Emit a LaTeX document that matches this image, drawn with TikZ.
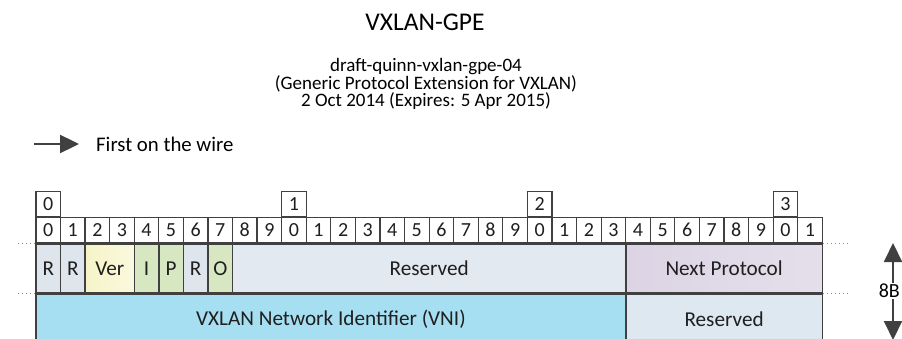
\documentclass[tikz,border=0pt]{standalone}
\usepackage{fontspec}
\setmainfont{Carlito}
\usetikzlibrary{arrows.meta,positioning}
\definecolor{linegray}{HTML}{404040}
\definecolor{dotgray}{HTML}{8C8C8C}
\definecolor{textdark}{HTML}{1F1F1F}
\definecolor{flagfill}{HTML}{DFE5ED}
\definecolor{verfill}{HTML}{F6F4C6}
\definecolor{bitfill}{HTML}{D6E7C2}
\definecolor{resfill}{HTML}{E3E9F0}
\definecolor{resmid}{HTML}{DCDDDF}
\definecolor{nextfill}{HTML}{DCD4E4}
\definecolor{vnifill}{HTML}{A6DEF2}
\definecolor{vnimid}{HTML}{D2E9F2}
\definecolor{resbfill}{HTML}{DEE8F1}
\newcommand{\bitw}{24.575}
\tikzset{
  >={Triangle[length=19pt,width=18pt]},
  bitcell/.style={draw=linegray,line width=1.2pt,fill=white,minimum width=\bitw pt,minimum height=25pt,inner sep=0pt,font=\fontsize{20}{21}\selectfont,text=textdark},
  field/.style={draw=linegray,line width=1.4pt,minimum height=49pt,inner sep=0pt,anchor=north west,font=\fontsize{21.2}{23}\selectfont,text=textdark},
  guide/.style={draw=dotgray,line width=1pt,dash pattern=on 1pt off 3pt},
  sizearrow/.style={->,draw=linegray,line width=2pt},
  wirearrow/.style={->,draw=linegray,line width=2.4pt}
}

\begin{document}
\begin{tikzpicture}[x=1pt,y=-1pt]
  \useasboundingbox (0,0) rectangle (902,339);

  % Title and draft reference.
  \node[font=\fontsize{25.5}{28}\selectfont,text=black] (title) at (425,22) {VXLAN-GPE};
  \node[font=\fontsize{19}{17.6}\selectfont,text=black,align=center] (draft) at (426,84) {draft-quinn-vxlan-gpe-04\\(Generic Protocol Extension for VXLAN)\\2 Oct 2014 (Expires: 5 Apr 2015)};

  % Bit order legend.
  \node[font=\fontsize{20.8}{23}\selectfont,text=black,anchor=west,inner sep=0pt] (wire) at (96,144) {First on the wire};
  \coordinate (wirestart) at (34,144);
  \draw[wirearrow] (wirestart) -- ([xshift=-17pt]wire.west);

  % Bit ruler.
  \foreach \b in {0,...,31} {
    \pgfmathtruncatemacro\d{mod(\b,10)}
    \node[bitcell,anchor=north west] (bit\b) at ({35.3+\b*\bitw},217) {\d};
  }
  \foreach \t in {0,1,2,3}
    \node[bitcell,anchor=south west] (dec\t) at ({35.3+\t*10*\bitw},217) {\t};

  % First word.
  \node[field,fill=flagfill,minimum width=\bitw pt] (fR0) at (bit0.south west) {R};
  \node[field,fill=flagfill,minimum width=\bitw pt] (fR1) at (bit1.south west) {R};
  \node[field,left color=verfill,right color=verfill!55,minimum width=2*\bitw pt] (fVer) at (bit2.south west) {Ver};
  \node[field,fill=bitfill,minimum width=\bitw pt] (fI) at (bit4.south west) {I};
  \node[field,fill=bitfill,minimum width=\bitw pt] (fP) at (bit5.south west) {P};
  \node[field,fill=flagfill,minimum width=\bitw pt] (fR6) at (bit6.south west) {R};
  \node[field,fill=bitfill,minimum width=\bitw pt] (fO) at (bit7.south west) {O};
  \node[field,left color=resfill,middle color=resmid,right color=resfill,minimum width=16*\bitw pt] (fRes) at (bit8.south west) {Reserved};
  \node[field,left color=nextfill,right color=nextfill!75,minimum width=8*\bitw pt] (fNext) at (bit24.south west) {Next Protocol};

  % Second word.
  \node[field,left color=vnifill,middle color=vnimid,right color=vnifill,minimum width=24*\bitw pt] (fVNI) at (fR0.south west) {VXLAN Network Identifier (VNI)};
  \node[field,fill=resbfill,minimum width=8*\bitw pt] (fResB) at (fNext.south west) {Reserved};

  % Word boundaries continue past the frame.
  \draw[guide] (fR0.north west) -- ++(-17,0);
  \draw[guide] (fR0.south west) -- ++(-17,0);
  \draw[guide] (fNext.north east) -- ++(25,0);
  \draw[guide] (fNext.south east) -- ++(25,0);

  % Word size.
  \node[font=\fontsize{20}{22}\selectfont,text=black,inner sep=1pt,anchor=east] (size) at (901,291) {8B};
  \coordinate (sizetop) at (893,243);
  \coordinate (sizebot) at (893,340);
  \draw[sizearrow] (size.north -| sizetop) -- (sizetop);
  \draw[sizearrow] (size.south -| sizebot) -- (sizebot);
\end{tikzpicture}
\end{document}
